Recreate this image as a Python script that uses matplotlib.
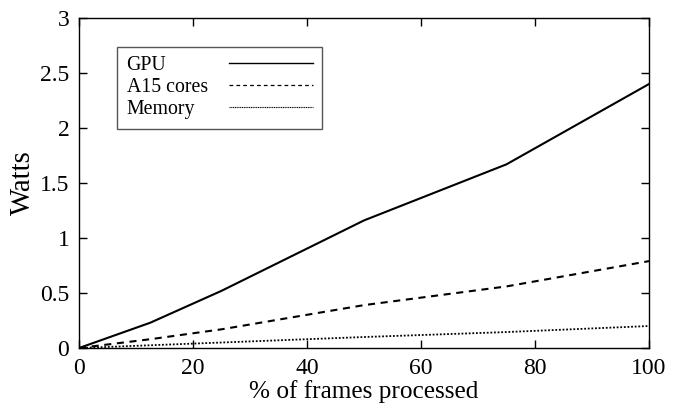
import numpy as np
from matplotlib import pyplot as plt

plt.rcParams['font.family'] = ['Liberation Serif', 'DejaVu Serif']

frames = [0, 12.5, 25, 50, 75, 100]
gpu = [0, 0.23, 0.52, 1.16, 1.67, 2.40]
a15 = [0, 0.08, 0.17, 0.39, 0.56, 0.79]
memory = [0, 0.025, 0.05, 0.10, 0.145, 0.20]

fig = plt.figure(figsize=(6.86, 4.12), dpi=100)
ax = fig.add_axes([0.1152, 0.1553, 0.8309, 0.801])

ax.plot(frames, gpu, color='black', lw=1.5, ls='-', label='GPU')
ax.plot(frames, a15, color='black', lw=1.5, ls=(0, (3.4, 2.7)), label='A15 cores')
ax.plot(frames, memory, color='black', lw=1.3, ls=(0, (1, 1)), label='Memory')

ax.set_xlim(0, 100)
ax.set_ylim(0, 3)
ax.set_xticks([0, 20, 40, 60, 80, 100])
ax.set_yticks([0, 0.5, 1, 1.5, 2, 2.5, 3])
ax.set_yticklabels(['0', '0.5', '1', '1.5', '2', '2.5', '3'])
ax.tick_params(direction='in', top=True, right=True, labelsize=17, length=6, width=1, pad=7)
for s in ax.spines.values():
    s.set_linewidth(1)

ax.set_xlabel('% of frames processed', fontsize=18.2, labelpad=1)
ax.set_ylabel('Watts', fontsize=20.7, labelpad=3)

leg = ax.legend(loc='upper left', bbox_to_anchor=(0.067, 0.912), fontsize=14.3,
                markerfirst=False, handlelength=4.23, handletextpad=0.85,
                labelspacing=0.15, borderpad=0.47, borderaxespad=0,
                fancybox=False, framealpha=1)
leg.get_frame().set_edgecolor('#555555')
leg.get_frame().set_linewidth(1)
# thinner key samples like the original
lg = leg.get_lines()
lg[0].set_linewidth(1.0)
lg[1].set_linewidth(0.9)
lg[1].set_dashes((3, 2.5))
lg[2].set_linewidth(0.8)
lg[2].set_dashes((1, 0.6))

# labels flush left, handles flush right (gnuplot style key)
fig.canvas.draw()
renderer = fig.canvas.get_renderer()
rows = [r for col in leg._legend_handle_box.get_children() for r in col.get_children()]
w = max(r.get_bbox(renderer).width for r in rows) + 4
for r in rows:
    r.mode = 'expand'
    r.width = w

plt.savefig('out.png', dpi=100)
